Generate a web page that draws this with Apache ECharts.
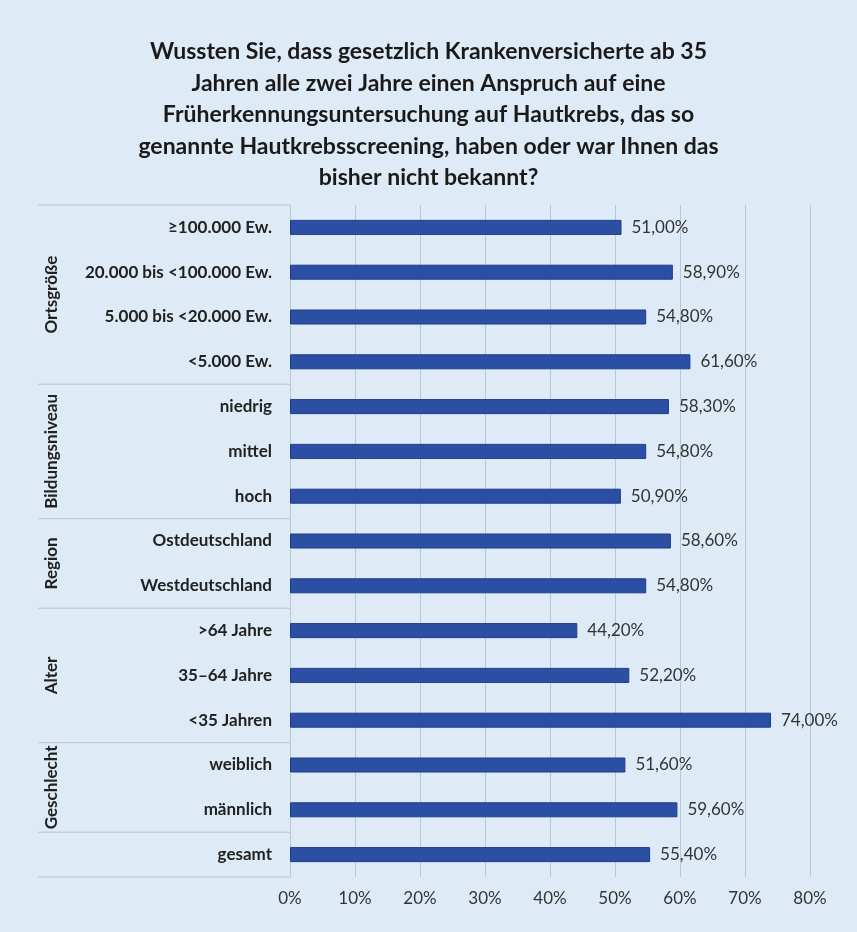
<!DOCTYPE html>
<html>
<head>
<meta charset="utf-8">
<script src="https://cdn.jsdelivr.net/npm/echarts@6/dist/echarts.min.js"></script>
<style>
  html, body { margin: 0; padding: 0; background: #ffffff; }
  #chart { width: 857px; height: 932px; }
</style>
</head>
<body>
<div id="chart"></div>
<script>
const titleText = 'Wussten Sie, dass gesetzlich Krankenversicherte ab 35\nJahren alle zwei Jahre einen Anspruch auf eine\nFrüherkennungsuntersuchung auf Hautkrebs, das so\ngenannte Hautkrebsscreening, haben oder war Ihnen das\nbisher nicht bekannt?'

const categories = [
  '≥100.000 Ew.', '20.000 bis <100.000 Ew.', '5.000 bis <20.000 Ew.', '<5.000 Ew.',
  'niedrig', 'mittel', 'hoch',
  'Ostdeutschland', 'Westdeutschland',
  '>64 Jahre', '35–64 Jahre', '<35 Jahren',
  'weiblich', 'männlich',
  'gesamt'
]
const values = [51.0, 58.9, 54.8, 61.6, 58.3, 54.8, 50.9, 58.6, 54.8, 44.2, 52.2, 74.0, 51.6, 59.6, 55.4]

// group name and how many categories it covers (top to bottom)
const groupNames = ['Ortsgröße', 'Bildungsniveau', 'Region', 'Alter', 'Geschlecht', '']
const groupSizes = [4, 3, 2, 3, 2, 1]

const xTicks = [0, 10, 20, 30, 40, 50, 60, 70, 80]

const FONT = 'Lato, "Open Sans", sans-serif'
const lineColor = '#b3c9d3'

const chart = echarts.init(document.getElementById('chart'))

chart.setOption({
  backgroundColor: '#deebf7',
  title: {
    text: titleText,
    left: 'center',
    top: 31,
    textStyle: { fontFamily: FONT, fontSize: 23, fontWeight: 'bold', color: '#1a1a1a', lineHeight: 31.5 }
  },
  grid: { left: 290, right: 47, top: 205, bottom: 55, containLabel: false },
  xAxis: {
    type: 'value',
    min: xTicks[0],
    max: xTicks[xTicks.length - 1],
    interval: 10,
    axisLine: { show: false },
    axisTick: { show: false },
    splitLine: { lineStyle: { color: lineColor, width: 1 } },
    axisLabel: { formatter: '{value}%', margin: 13, fontFamily: FONT, fontSize: 17, color: '#333' }
  },
  yAxis: {
    type: 'category',
    data: categories,
    inverse: true,
    axisLine: { lineStyle: { color: lineColor } },
    axisTick: { show: false },
    axisLabel: { margin: 18, fontFamily: FONT, fontSize: 17, fontWeight: 'bold', color: '#222' }
  },
  series: [{
    type: 'bar',
    data: values,
    barWidth: 15,
    itemStyle: { color: '#2b4fa2', borderColor: '#1d3c8c', borderWidth: 1 },
    label: {
      show: true,
      position: 'right',
      distance: 10,
      fontFamily: FONT,
      fontSize: 17,
      color: '#333',
      formatter: p => p.value.toFixed(2).replace('.', ',') + '%'
    }
  }]
})

// group separators and rotated group titles, placed through the category axis
const leftX = 38
const axisX = chart.convertToPixel({ xAxisIndex: 0 }, 0)
const c0 = chart.convertToPixel({ yAxisIndex: 0 }, categories[0])
const c1 = chart.convertToPixel({ yAxisIndex: 0 }, categories[1])
const band = c1 - c0
const edge = i => c0 - band / 2 + i * band

const graphics = []
let start = 0
graphics.push({ type: 'line', shape: { x1: leftX, y1: edge(0), x2: axisX, y2: edge(0) }, style: { stroke: lineColor, lineWidth: 1 }, silent: true })
groupSizes.forEach((n, gi) => {
  const end = start + n
  graphics.push({ type: 'line', shape: { x1: leftX, y1: edge(end), x2: axisX, y2: edge(end) }, style: { stroke: lineColor, lineWidth: 1 }, silent: true })
  if (groupNames[gi]) {
    graphics.push({
      type: 'text',
      x: 52,
      y: (edge(start) + edge(end)) / 2,
      rotation: Math.PI / 2,
      style: { text: groupNames[gi], fontFamily: FONT, fontSize: 17, fontWeight: 'bold', fill: '#222', align: 'center', verticalAlign: 'middle' },
      silent: true
    })
  }
  start = end
})
chart.setOption({ graphic: graphics })
</script>
</body>
</html>
